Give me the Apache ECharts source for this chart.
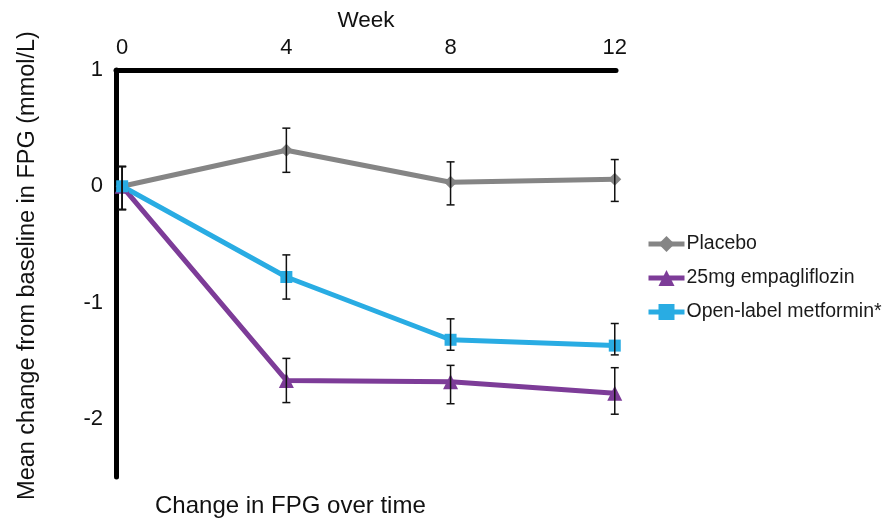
<!DOCTYPE html>
<html>
<head>
<meta charset="utf-8">
<script src="https://cdn.jsdelivr.net/npm/echarts@6/dist/echarts.min.js"></script>
<style>
  html, body { margin: 0; padding: 0; background: #fff; }
  #chart { width: 883px; height: 522px; }
</style>
</head>
<body>
<div id="chart"></div>
<script>
// Weeks of treatment
const weeks = [0, 4, 8, 12];
const weekTicks = [0, 4, 8, 12];
const yTicks = [1, 0, -1, -2];

// Mean change from baseline in FPG (mmol/L)
const placebo = [0, 0.31, 0.035, 0.06];
const empagliflozin = [0, -1.67, -1.68, -1.78];
const metformin = [0, -0.78, -1.32, -1.37];

// Error bar ranges [low, high]
const placeboErr = [[-0.2, 0.17], [0.12, 0.5], [-0.16, 0.21], [-0.13, 0.23]];
const empaErr = [[-0.2, 0.17], [-1.86, -1.48], [-1.87, -1.54], [-1.96, -1.56]];
const metErr = [[-0.2, 0.17], [-0.97, -0.59], [-1.41, -1.14], [-1.45, -1.18]];

const FONT = '"Liberation Sans", Arial, Helvetica, sans-serif';

function pairs(vals) { return weeks.map((w, i) => [w, vals[i]]); }
function errPairs(errs) { return weeks.map((w, i) => [w, errs[i][0], errs[i][1]]); }

function errorBarSeries(errs) {
  return {
    type: 'custom',
    data: errPairs(errs),
    z: 5,
    silent: true,
    renderItem: function (params, api) {
      const x = api.value(0);
      const lo = api.coord([x, api.value(1)]);
      const hi = api.coord([x, api.value(2)]);
      const cap = 4;
      const style = { stroke: '#111', lineWidth: 1.5 };
      return {
        type: 'group',
        children: [
          { type: 'line', shape: { x1: lo[0], y1: lo[1], x2: hi[0], y2: hi[1] }, style },
          { type: 'line', shape: { x1: lo[0] - cap, y1: lo[1], x2: lo[0] + cap, y2: lo[1] }, style },
          { type: 'line', shape: { x1: hi[0] - cap, y1: hi[1], x2: hi[0] + cap, y2: hi[1] }, style }
        ]
      };
    }
  };
}

function lineSeries(name, vals, color, symbol, size) {
  return {
    name: name,
    type: 'line',
    data: pairs(vals),
    symbol: symbol,
    symbolSize: size,
    lineStyle: { color: color, width: 5 },
    itemStyle: { color: color },
    z: 3
  };
}

const chart = echarts.init(document.getElementById('chart'));
chart.setOption({
  animation: false,
  backgroundColor: '#fff',
  textStyle: { fontFamily: FONT },
  title: {
    text: 'Change in FPG over time',
    left: 150,
    top: 489,
    textStyle: { fontFamily: FONT, fontSize: 24, fontWeight: 'normal', color: '#111' }
  },
  legend: {
    orient: 'vertical',
    left: 646,
    top: 234,
    padding: 0,
    itemWidth: 36,
    itemHeight: 20,
    itemGap: 14,
    lineStyle: { width: 5 },
    textStyle: { fontFamily: FONT, fontSize: 19.5, color: '#1a1a1a', padding: [0, 0, 0, -3] },
    data: ['Placebo', '25mg empagliflozin', 'Open-label metformin*']
  },
  grid: { left: 116, right: 267, top: 70, bottom: 45, outerBoundsMode: 'none' },
  xAxis: {
    type: 'value',
    position: 'top',
    min: -0.15,
    max: 12.03,
    name: 'Week',
    nameLocation: 'middle',
    nameGap: 38,
    nameTextStyle: { fontFamily: FONT, fontSize: 22.5, color: '#111' },
    axisLine: { show: true, onZero: false, lineStyle: { color: '#000', width: 5 } },
    axisTick: { show: false },
    splitLine: { show: false },
    axisLabel: {
      customValues: weekTicks,
      fontFamily: FONT, fontSize: 22, color: '#111', margin: 11
    }
  },
  yAxis: {
    type: 'value',
    min: -2.5,
    max: 1,
    name: 'Mean change from baseline in FPG (mmol/L)',
    nameLocation: 'middle',
    nameGap: 76,
    nameTextStyle: { fontFamily: FONT, fontSize: 23.5, color: '#111', padding: [0, 0, 0, 16] },
    axisLine: { show: true, onZero: false, lineStyle: { color: '#000', width: 5 } },
    axisTick: { show: false },
    splitLine: { show: false },
    axisLabel: {
      customValues: yTicks,
      fontFamily: FONT, fontSize: 22, color: '#111', margin: 13, padding: [4, 0, 0, 0]
    }
  },
  series: [
    lineSeries('Placebo', placebo, '#858585', 'diamond', 13),
    lineSeries('25mg empagliflozin', empagliflozin, '#7d3c98', 'triangle', 15),
    lineSeries('Open-label metformin*', metformin, '#29ace3', 'rect', 12),
    errorBarSeries(placeboErr),
    errorBarSeries(empaErr),
    errorBarSeries(metErr)
  ]
});
</script>
</body>
</html>
